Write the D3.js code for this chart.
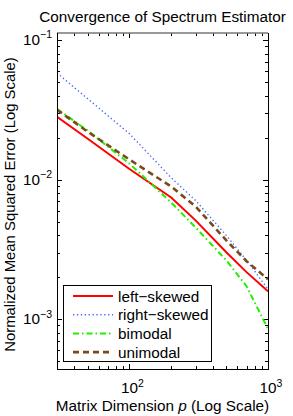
<!DOCTYPE html>
<html><head><meta charset="utf-8">
<script src="https://cdn.jsdelivr.net/npm/d3@7"></script>
<style>body{margin:0;background:#fff}svg{display:block}text{font-family:"Liberation Sans",Arial,Helvetica,sans-serif;fill:#000}</style>
</head><body><svg id="c" width="293" height="416"></svg>
<script>
const dims = [30, 50, 100, 200, 300, 500, 700, 1000];
const leftSkewed  = [0.0282, 0.0196, 0.0119, 0.00743, 0.00510, 0.00301, 0.00217, 0.00158];
const rightSkewed = [0.0580, 0.0379, 0.0213, 0.0103, 0.00708, 0.00398, 0.00264, 0.00164];
const bimodal     = [0.0321, 0.0224, 0.0130, 0.00685, 0.00454, 0.00264, 0.00172, 0.00085];
const unimodal    = [0.0316, 0.0220, 0.0139, 0.00891, 0.00642, 0.00367, 0.00260, 0.00193];
const seriesNames = ["left\u2212skewed", "right\u2212skewed", "bimodal", "unimodal"];
const xTickExps = [2, 3];
const yTickExps = [-1, -2, -3];

const series = [
  {name: seriesNames[0], vals: leftSkewed,  color: "#ff0000", w: 2,   dash: null},
  {name: seriesNames[1], vals: rightSkewed, color: "#4466ff", w: 1.4, dash: "1.3,2.6"},
  {name: seriesNames[2], vals: bimodal,     color: "#22ee00", w: 2,   dash: "6,3,1.5,3"},
  {name: seriesNames[3], vals: unimodal,    color: "#7a4a1a", w: 2.6, dash: "6,4"}
];

const FS = 15.3;
const svg = d3.select("#c");
const L = 57, R = 268, T = 33, B = 369;
const x = d3.scaleLog().domain([30, 1000]).range([L, R]);
const y = d3.scaleLog().domain([0.000439, 0.1122]).range([B, T]);

// minor/major ticks
const g = svg.append("g");
const xTicks = [];
for (let e = 1; e <= 3; e++) for (let m = 1; m <= 9; m++) { const v = m * Math.pow(10, e); if (v >= 30 && v <= 1000) xTicks.push({v, major: m === 1}); }
const yTicks = [];
for (let e = -4; e <= -1; e++) for (let m = 1; m <= 9; m++) { const v = m * Math.pow(10, e); if (v >= 0.000439 && v <= 0.1122) yTicks.push({v, major: m === 1}); }
xTicks.forEach(t => {
  const px = Math.round(x(t.v)) + 0.5, len = t.major ? 5 : 3;
  g.append("line").attr("x1", px).attr("x2", px).attr("y1", B).attr("y2", B - len).attr("stroke", "#000");
  g.append("line").attr("x1", px).attr("x2", px).attr("y1", T).attr("y2", T + len).attr("stroke", "#000");
});
yTicks.forEach(t => {
  const py = Math.round(y(t.v)) + 0.5, len = t.major ? 5 : 3;
  g.append("line").attr("y1", py).attr("y2", py).attr("x1", L).attr("x2", L + len).attr("stroke", "#000");
  g.append("line").attr("y1", py).attr("y2", py).attr("x1", R).attr("x2", R - len).attr("stroke", "#000");
});

// lines
const line = d3.line().x((d, i) => x(dims[i])).y(d => y(d));
svg.append("clipPath").attr("id", "pc").append("rect").attr("x", L).attr("y", T).attr("width", R - L).attr("height", B - T);
series.forEach(s => {
  svg.append("path").datum(s.vals).attr("d", line).attr("fill", "none")
    .attr("stroke", s.color).attr("stroke-width", s.w)
    .attr("stroke-dasharray", s.dash).attr("clip-path", "url(#pc)");
});

// frame
svg.append("line").attr("x1", L).attr("x2", R).attr("y1", T).attr("y2", T).attr("stroke", "#777").attr("stroke-width", 1.6);
svg.append("line").attr("x1", L + 0.5).attr("x2", L + 0.5).attr("y1", T).attr("y2", B).attr("stroke", "#000");
svg.append("line").attr("x1", R + 0.5).attr("x2", R + 0.5).attr("y1", T).attr("y2", B).attr("stroke", "#000");
svg.append("line").attr("x1", L).attr("x2", R + 1).attr("y1", B + 0.5).attr("y2", B + 0.5).attr("stroke", "#000");

// tick labels
yTickExps.forEach(e => {
  const t = svg.append("text").attr("x", 52).attr("y", y(Math.pow(10, e)) + 5).attr("text-anchor", "end").attr("font-size", FS);
  t.append("tspan").text("10");
  t.append("tspan").attr("dy", -6.5).attr("font-size", 10.5).text("\u2212" + (-e));
});
xTickExps.forEach(e => {
  const t = svg.append("text").attr("x", x(Math.pow(10, e)) + 3).attr("y", 393).attr("text-anchor", "middle").attr("font-size", FS);
  t.append("tspan").text("10");
  t.append("tspan").attr("dy", -6.5).attr("font-size", 10.5).text(String(e));
});

// titles
svg.append("text").attr("x", (L + R) / 2).attr("y", 22).attr("text-anchor", "middle").attr("font-size", FS).text("Convergence of Spectrum Estimator");
const xl = svg.append("text").attr("x", (L + R) / 2).attr("y", 411).attr("text-anchor", "middle").attr("font-size", FS);
xl.append("tspan").text("Matrix Dimension ");
xl.append("tspan").attr("font-style", "italic").text("p");
xl.append("tspan").text(" (Log Scale)");
svg.append("text").attr("transform", "translate(15,204.5) rotate(-90)").attr("text-anchor", "middle").attr("font-size", 14.9).text("Normalized Mean Squared Error (Log Scale)");

// legend
const lg = svg.append("g");
lg.append("rect").attr("x", 63.5).attr("y", 285.5).attr("width", 148).attr("height", 76).attr("fill", "#fff").attr("stroke", "#000");
series.forEach((s, i) => {
  const cy = 296 + i * 18.7;
  lg.append("line").attr("x1", 73).attr("x2", 113).attr("y1", cy).attr("y2", cy)
    .attr("stroke", s.color).attr("stroke-width", s.w).attr("stroke-dasharray", s.dash);
  lg.append("text").attr("x", 118).attr("y", cy + 5.5).attr("font-size", FS).text(s.name);
});
</script></body></html>
